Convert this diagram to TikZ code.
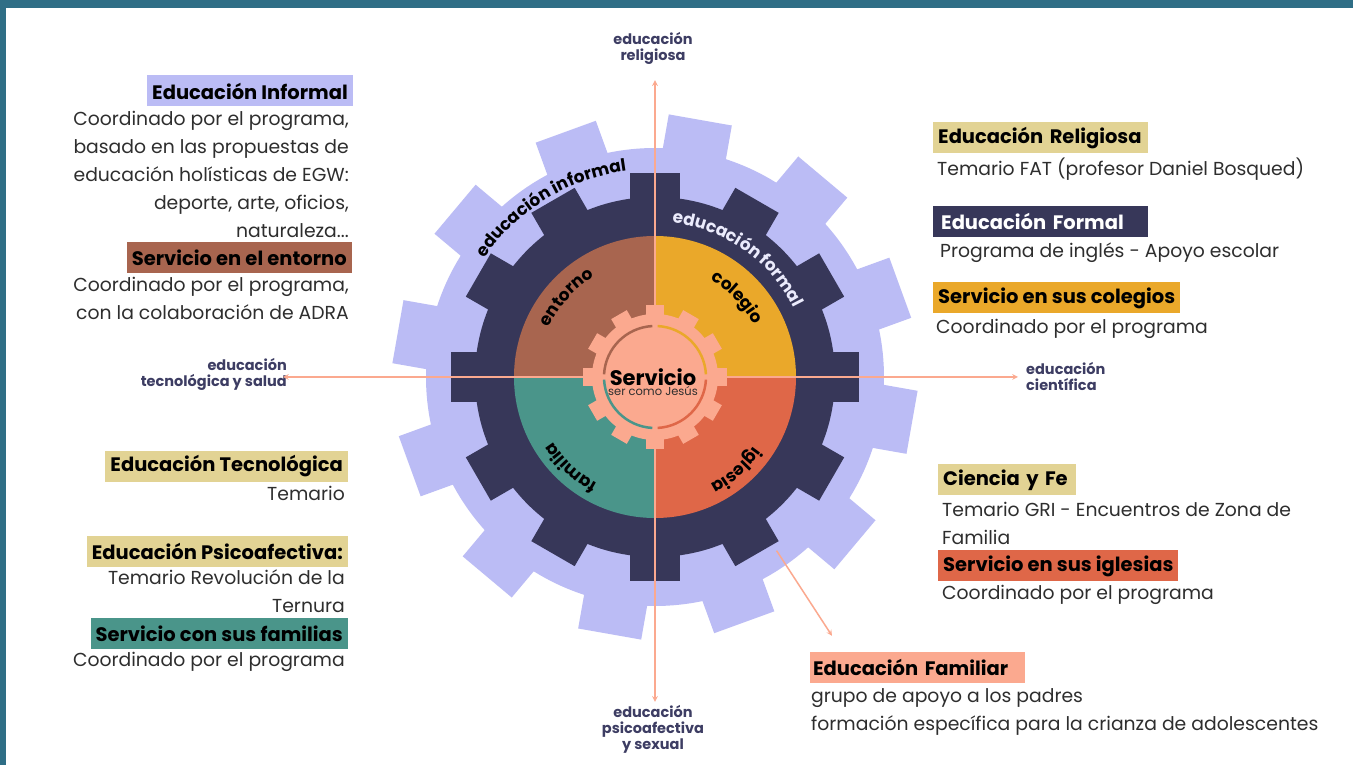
\documentclass[tikz,border=0pt]{standalone}
\usepackage{fontspec}
\setmainfont{Poppins}
\usetikzlibrary{positioning, decorations.text}

\definecolor{lavanda}{HTML}{BBBCF5}
\definecolor{marino}{HTML}{373759}
\definecolor{entornoc}{HTML}{A8654F}
\definecolor{colegioc}{HTML}{EAA82A}
\definecolor{iglesiac}{HTML}{DF6748}
\definecolor{familiac}{HTML}{4A958A}
\definecolor{salmon}{HTML}{FBA98F}
\definecolor{beige}{HTML}{E2D394}
\definecolor{ejetexto}{HTML}{3D3D63}
\definecolor{cuerpo}{HTML}{2E2E2E}
\definecolor{marco}{HTML}{2F6E86}

\begin{document}
\begin{tikzpicture}[x=1pt, y=1pt, >=stealth,
    titulo/.style={font=\bfseries\fontsize{19.5}{21}\selectfont, inner xsep=5pt, inner ysep=0pt, minimum height=31pt},
    texto/.style={font=\fontsize{18.8}{28}\selectfont, text=cuerpo, inner sep=0pt},
    eje/.style={font=\bfseries\fontsize{14.5}{16}\selectfont, text=ejetexto, inner sep=0pt},
    flecha/.style={->, draw=salmon, line width=1.5pt},
    curvo/.style={decorate, decoration={text along path, text align=center,
        text={|\bfseries\fontsize{17}{17}\selectfont|#1}}}]
    \useasboundingbox (-655,-388) rectangle (698,377);
    \fill[marco] (-655,-388) rectangle (698,377);
    \fill[white] (-649,-388) rectangle (698,369);

    \coordinate (o) at (0,0);
    \fill[lavanda] (o) circle (229);
    \foreach \a in {20,50,...,350}
        \fill[lavanda, rotate=\a] (220,-32) rectangle (261,32);
    \fill[marino] (o) circle (180);
    \foreach \a in {0,30,...,330}
        \fill[marino, rotate=\a] (170,-25) rectangle (204,25);
    \foreach \c/\a in {colegioc/0, entornoc/90, familiac/180, iglesiac/270}
        \fill[\c] (o) -- (\a:141) arc[start angle=\a, delta angle=90, radius=141] -- cycle;

    \path[curvo=educación informal] (160:208) arc[start angle=160, end angle=83, radius=208];
    \path[curvo=educación formal, decoration={text color=lavanda!30}] (95:155) arc[start angle=95, end angle=15, radius=155];
    \path[curvo=entorno] (173:117) arc[start angle=173, end angle=103, radius=117];
    \path[curvo=colegio] (79:112) arc[start angle=79, end angle=9, radius=112];
    \path[curvo=iglesia] (-14:121) arc[start angle=-14, end angle=-84, radius=121];
    \path[curvo=familia] (-98:121) arc[start angle=-98, end angle=-168, radius=121];

    \node[eje, align=center] (relig) at (-2,329) {educación\\religiosa};
    \node[eje, align=center] (psico) at (-2,-352) {educación\\psicoafectiva\\y sexual};
    \node[eje, align=right, anchor=east] (tecno) at (-368,2.5) {educación\\tecnológica y salud};
    \node[eje, align=left, anchor=west] (cient) at (371,0.5) {educación\\científica};

    \draw[flecha, shorten >=16pt] (o) -- (o |- relig.south);
    \draw[flecha, shorten >=3pt] (o) -- (o |- psico.north);
    \draw[flecha, shorten >=-4pt] (o) -- (o -| tecno.east);
    \draw[flecha, shorten >=8pt] (o) -- (o -| cient.west);

    \fill[salmon] (o) circle (63);
    \foreach \a in {0,30,...,330}
        \fill[salmon, rotate=\a] (55,-9) rectangle (72,9);
    \foreach \c/\a in {colegioc/3, entornoc/93, familiac/183, iglesiac/273}
        \draw[\c, line width=2.5pt] (\a:51) arc[start angle=\a, delta angle=84, radius=51];
    \node[font=\bfseries\fontsize{21}{22}\selectfont, inner sep=0pt] (serv) at (-2,0) {Servicio};
    \node[font=\fontsize{11.5}{12}\selectfont, text=cuerpo, inner sep=0pt, below=1pt of serv] (jesus) {ser como Jesús};

    \node[titulo, fill=lavanda, anchor=east] (infhead) at (-302,286) {Educación Informal};
    \node[texto, align=right, anchor=north east] (inftxt) at ([xshift=-4pt, yshift=-4pt]infhead.south east)
        {Coordinado por el programa,\\basado en las propuestas de\\educación holísticas de EGW:\\deporte, arte, oficios,\\naturaleza...};
    \node[titulo, fill=entornoc, anchor=east] (enthead) at (-303,119.5) {Servicio en el entorno};
    \node[texto, align=right, anchor=north east] (enttxt) at ([xshift=-3pt, yshift=-4pt]enthead.south east)
        {Coordinado por el programa,\\con la colaboración de ADRA\hspace{6pt}};

    \node[titulo, fill=beige, anchor=west, text width=205pt] (relhead) at (278,239) {Educación Religiosa};
    \node[texto, anchor=north west] (reltxt) at ([xshift=4pt, yshift=-4pt]relhead.south west)
        {Temario FAT (profesor Daniel Bosqued)};
    \node[titulo, fill=marino, text=white, anchor=west, text width=205pt] (forhead) at (278,155.5) {\hspace{3pt}Educación Formal};
    \node[texto, anchor=north west] (fortxt) at ([xshift=7pt, yshift=-5pt]forhead.south west)
        {Programa de inglés - Apoyo escolar};
    \node[titulo, fill=colegioc, anchor=west] (colhead) at (278,79) {Servicio en sus colegios};
    \node[texto, anchor=north west] (coltxt) at ([xshift=3pt, yshift=-5pt]colhead.south west)
        {Coordinado por el programa};

    \node[titulo, fill=beige, anchor=east] (tecnohead) at (-307,-89.5) {Educación Tecnológica};
    \node[texto, anchor=north east] (tecnotxt) at ([xshift=-3pt, yshift=-4pt]tecnohead.south east) {Temario};
    \node[titulo, fill=beige, anchor=east] (psicohead) at (-307,-174.5) {Educación Psicoafectiva:};
    \node[texto, align=right, anchor=north east] (psicotxt) at ([xshift=-3pt, yshift=-2pt]psicohead.south east)
        {Temario Revolución de la\\Ternura\hspace{5pt}};
    \node[titulo, fill=familiac, anchor=east] (famserv) at (-307,-256.5) {Servicio con sus familias};
    \node[texto, anchor=north east] (famservtxt) at ([xshift=-3pt, yshift=-3pt]famserv.south east)
        {Coordinado por el programa};

    \node[titulo, fill=beige, anchor=west, text width=128pt] (cfhead) at (283,-103) {Ciencia y Fe};
    \node[texto, align=left, anchor=north west] (cftxt) at ([xshift=4pt, yshift=-6pt]cfhead.south west)
        {Temario GRI - Encuentros de Zona de\\Familia};
    \node[titulo, fill=iglesiac, anchor=west] (iglhead) at (283,-189) {Servicio en sus iglesias};
    \node[texto, anchor=north west] (igltxt) at ([xshift=4pt, yshift=-3pt]iglhead.south west)
        {Coordinado por el programa};

    \node[titulo, fill=salmon, anchor=west, text width=209pt, inner xsep=3pt] (famhead) at (155,-290.5) {Educación Familiar};
    \node[texto, align=left, anchor=north west] (famtxt) at ([xshift=1pt, yshift=-5pt]famhead.south west)
        {grupo de apoyo a los padres\\formación específica para la crianza de adolescentes};

    \coordinate (famini) at (-55:212);
    \coordinate (famfin) at ([xshift=22pt, yshift=16pt]famhead.north west);
    \draw[flecha] (famini) -- (famfin);
\end{tikzpicture}
\end{document}
